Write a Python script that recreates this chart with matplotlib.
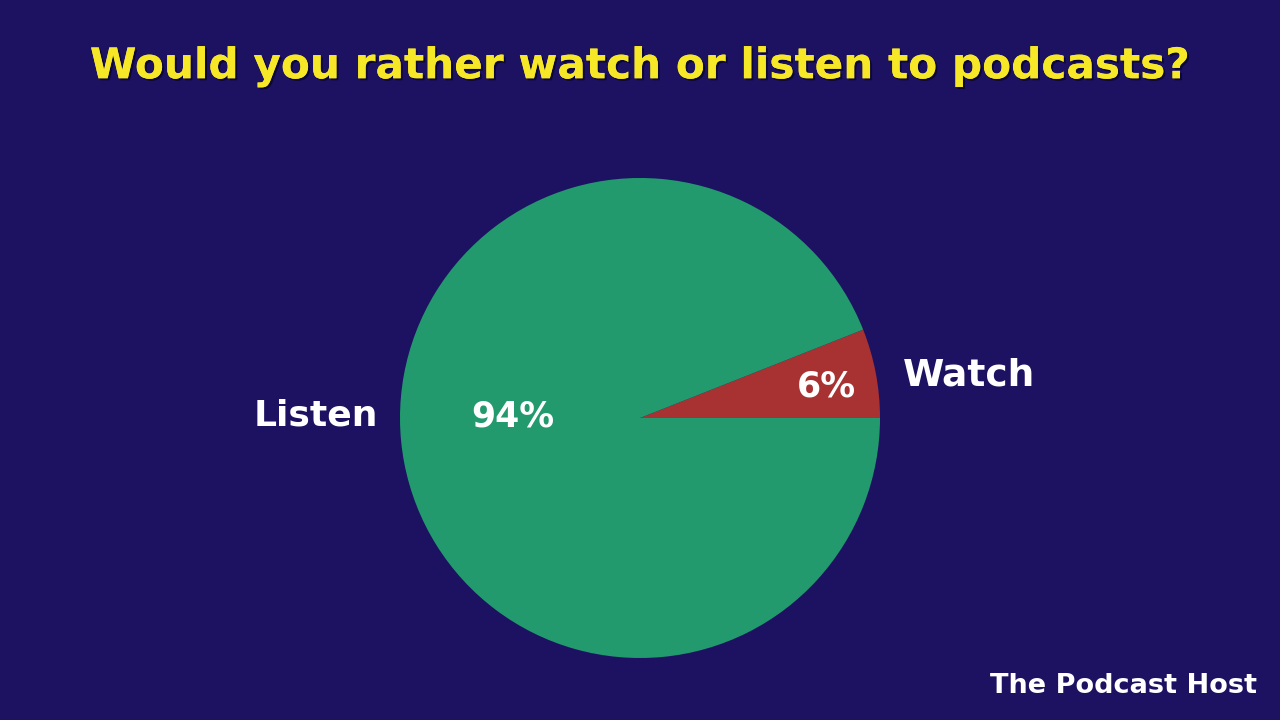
import matplotlib.pyplot as plt
import matplotlib.patheffects as pe

# poll answers
answers = ["Watch", "Listen"]
shares = [6, 94]
colors = ["#a83232", "#239a6e"]

title = "Would you rather watch or listen to podcasts?"
brand = "The Podcast Host"

BG = "#1d1262"
FONT = "DejaVu Sans"

fig = plt.figure(figsize=(12.8, 7.2), dpi=100, facecolor=BG)
ax = fig.add_axes([0.3125, 0.0861, 0.375, 0.6667])
ax.set_facecolor(BG)

wedges, texts, pcts = ax.pie(shares, colors=colors, startangle=0, counterclock=True,
                             autopct="%d%%", pctdistance=0.6,
                             textprops=dict(color="white", fontsize=25,
                                            fontweight="bold", family=FONT))
ax.set_aspect("equal")
ax.set_xlim(-1, 1)
ax.set_ylim(-1, 1)

# the percentage labels sit in odd places in the original, move them by hand
pcts[0].set_position((0.775, 0.133))
pcts[1].set_position((-0.53, 0.008))

ax.text(1.096, 0.175, answers[0], color="white", fontsize=27, fontweight="bold",
        family=FONT, ha="left", va="center")
ax.text(-1.09, 0.01, answers[1], color="white", fontsize=26, fontweight="bold",
        family=FONT, ha="right", va="center")

fig.text(0.5, 0.908, title, color="#f7e827", fontsize=30.4, fontweight="bold",
         family=FONT, ha="center", va="center",
         path_effects=[pe.withSimplePatchShadow(offset=(1.5, -1.5), shadow_rgbFace="#0a0630", alpha=0.8),
                       pe.Normal()])

fig.text(0.982, 0.047, brand, color="white", fontsize=19.5, fontweight="bold",
         family=FONT, ha="right", va="center")

fig.savefig("out.png", dpi=100, facecolor=BG)
